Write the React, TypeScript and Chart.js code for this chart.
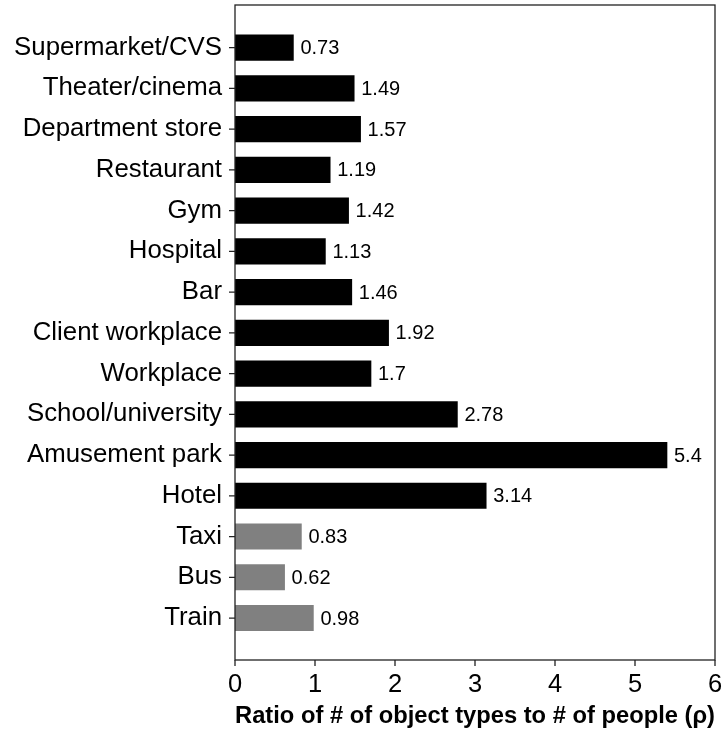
import React, { useEffect, useRef } from "react";
import { Chart, registerables } from "chart.js";

Chart.register(...registerables);

const categories: string[] = [
  "Supermarket/CVS",
  "Theater/cinema",
  "Department store",
  "Restaurant",
  "Gym",
  "Hospital",
  "Bar",
  "Client workplace",
  "Workplace",
  "School/university",
  "Amusement park",
  "Hotel",
  "Taxi",
  "Bus",
  "Train",
];
const ratios: number[] = [0.73, 1.49, 1.57, 1.19, 1.42, 1.13, 1.46, 1.92, 1.7, 2.78, 5.4, 3.14, 0.83, 0.62, 0.98];
const valueLabels: string[] = ["0.73", "1.49", "1.57", "1.19", "1.42", "1.13", "1.46", "1.92", "1.7", "2.78", "5.4", "3.14", "0.83", "0.62", "0.98"];
const isTransport: boolean[] = [false, false, false, false, false, false, false, false, false, false, false, false, true, true, true];
const xTicks: number[] = [0, 1, 2, 3, 4, 5, 6];
const xTitle = "Ratio of # of object types to # of people (\u03C1)";

const FONT = "'Liberation Sans', Arial, sans-serif";

export default function App() {
  const ref = useRef<HTMLCanvasElement | null>(null);
  useEffect(() => {
    if (!ref.current) return;
    const framePlugin = {
      id: "frame",
      afterDatasetsDraw(chart: any) {
        const { ctx, chartArea, scales } = chart;
        ctx.save();
        ctx.strokeStyle = "#222";
        ctx.lineWidth = 1.3;
        ctx.strokeRect(chartArea.left, chartArea.top, chartArea.right - chartArea.left, chartArea.bottom - chartArea.top);
        // tick marks
        ctx.beginPath();
        scales.y.ticks.forEach((t: any) => {
          const py = scales.y.getPixelForValue(t.value);
          ctx.moveTo(chartArea.left, py);
          ctx.lineTo(chartArea.left - 6, py);
        });
        scales.x.ticks.forEach((t: any) => {
          const px = scales.x.getPixelForValue(t.value);
          ctx.moveTo(px, chartArea.bottom);
          ctx.lineTo(px, chartArea.bottom + 6);
        });
        ctx.stroke();
        // value labels
        const meta = chart.getDatasetMeta(0);
        ctx.fillStyle = "#000";
        ctx.font = `20px ${FONT}`;
        ctx.textBaseline = "middle";
        ctx.textAlign = "left";
        meta.data.forEach((el: any, i: number) => {
          ctx.fillText(valueLabels[i], el.x + 7, el.y + 1);
        });
        ctx.restore();
      },
    };
    const chart = new Chart(ref.current, {
      type: "bar",
      data: {
        datasets: [
          {
            data: ratios.map((v, i) => ({ x: v, y: i })) as any,
            backgroundColor: isTransport.map((t) => (t ? "#808080" : "#000000")),
            borderWidth: 0,
            barThickness: 25.5,
          },
        ],
      },
      options: {
        indexAxis: "y",
        animation: false,
        responsive: false,
        layout: { padding: { top: 5, right: 7, left: 0, bottom: 0 } },
        plugins: { legend: { display: false }, tooltip: { enabled: false } },
        scales: {
          x: {
            type: "linear",
            min: 0,
            max: 6,
            offset: false,
            afterBuildTicks: (scale: any) => {
              scale.ticks = xTicks.map((v) => ({ value: v }));
            },
            afterFit: (scale: any) => {
              scale.height = 734 - 660;
              scale.paddingLeft = 0;
              scale.paddingRight = 0;
            },
            grid: { display: false, drawTicks: false },
            border: { display: false },
            ticks: {
              color: "#000",
              font: { family: FONT, size: 25.5 },
              padding: 10,
              maxRotation: 0,
              autoSkip: false,
            },
            title: {
              display: true,
              text: xTitle,
              color: "#000",
              font: { family: FONT, size: 24.2, weight: "bold" },
              padding: { top: 0, bottom: 3 },
            },
          },
          y: {
            type: "linear",
            reverse: true,
            min: -1.045,
            max: 15.03,
            offset: false,
            afterBuildTicks: (scale: any) => {
              scale.ticks = categories.map((_, i) => ({ value: i }));
            },
            afterFit: (scale: any) => {
              scale.width = 235;
              scale.paddingTop = 0;
              scale.paddingBottom = 0;
            },
            grid: { display: false, drawTicks: false },
            border: { display: false },
            ticks: {
              color: "#000",
              font: { family: FONT, size: 25.8 },
              padding: 13,
              autoSkip: false,
              callback: (v: any) => categories[v as number] ?? "",
            },
          },
        },
      },
      plugins: [framePlugin],
    } as any);
    return () => chart.destroy();
  }, []);
  return (
    <div style={{ position: "absolute", left: 0, top: 0, width: 722, height: 734, background: "#fff" }}>
      <canvas ref={ref} width={722} height={734} style={{ width: 722, height: 734, display: "block" }} />
    </div>
  );
}
